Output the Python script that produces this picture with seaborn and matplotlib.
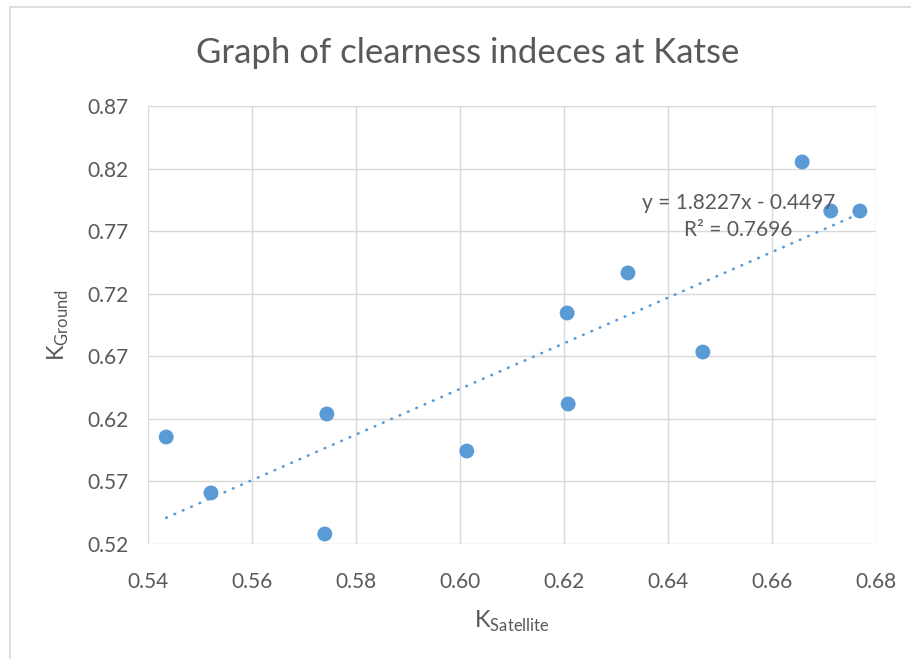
import matplotlib
matplotlib.use('Agg')
import matplotlib.pyplot as plt
import seaborn as sns
import numpy as np
import pandas as pd
from matplotlib.patches import Rectangle

# values
k_satellite = [0.5435, 0.5521, 0.5740, 0.5744, 0.6013, 0.6206,
               0.6208, 0.6323, 0.6467, 0.6658, 0.6713, 0.6769]
k_ground = [0.6055, 0.5608, 0.5280, 0.6239, 0.5943, 0.7046,
            0.6319, 0.7366, 0.6734, 0.8253, 0.7861, 0.7861]

# linear trendline as reported on the chart
slope = 1.8227
intercept = -0.4497
r_squared = 0.7696

x_ticks = [0.54, 0.56, 0.58, 0.60, 0.62, 0.64, 0.66, 0.68]
y_ticks = [0.52, 0.57, 0.62, 0.67, 0.72, 0.77, 0.82, 0.87]

df = pd.DataFrame({'k_sat': k_satellite, 'k_ground': k_ground})

blue = '#5B9BD5'
text_grey = '#595959'
grid_grey = '#D9D9D9'

sns.set_theme(style='white')
plt.rcParams['font.family'] = ['Lato', 'DejaVu Sans']
plt.rcParams['mathtext.fontset'] = 'custom'
plt.rcParams['mathtext.rm'] = 'Lato'

fig = plt.figure(figsize=(9.12, 6.59), dpi=100)
ax = fig.add_axes([148 / 912, 1 - 544 / 659, (876 - 148) / 912, (544 - 106) / 659])

# chart area border
fig.patches.append(Rectangle((10 / 912, -0.05), 1.1, 1 - 7 / 659 + 0.05,
                             transform=fig.transFigure, fill=False,
                             edgecolor=grid_grey, linewidth=1.2))

sns.scatterplot(data=df, x='k_sat', y='k_ground', ax=ax, color=blue,
                s=115, edgecolor='none', zorder=3)

xs = np.array([min(k_satellite), max(k_satellite)])
ax.plot(xs, slope * xs + intercept, color=blue, linewidth=1.9,
        linestyle=(0, (0.25, 3.2)), dash_capstyle='round', zorder=2)

ax.text(0.6535, 0.7925, f'y = {slope:.4f}x - {abs(intercept):.4f}',
        ha='center', va='center', fontsize=15, color=text_grey, zorder=4)
ax.text(0.6535, 0.7708, f'R² = {r_squared:.4f}',
        ha='center', va='center', fontsize=15, color=text_grey, zorder=4)

ax.set_xlim(0.54, 0.68)
ax.set_ylim(0.52, 0.87)
ax.set_xticks(x_ticks)
ax.set_yticks(y_ticks)
ax.set_xticklabels([f'{t:.2f}' for t in x_ticks])
ax.set_yticklabels([f'{t:.2f}' for t in y_ticks])
ax.tick_params(axis='both', length=0, labelsize=15, labelcolor=text_grey)
ax.tick_params(axis='y', pad=14)
ax.tick_params(axis='x', pad=20)
ax.grid(True, color=grid_grey, linewidth=1.0)
ax.set_axisbelow(True)
for sp in ax.spines.values():
    sp.set_visible(False)

ax.set_xlabel(r'K$_{\mathrm{Satellite}}$', fontsize=17, color=text_grey, labelpad=12)
ax.set_ylabel(r'K$_{\mathrm{Ground}}$', fontsize=17, color=text_grey, labelpad=12)

fig.text(468 / 912, 1 - 53 / 659, 'Graph of clearness indeces at Katse',
         ha='center', va='center', fontsize=25, color=text_grey)

fig.savefig('out.png', dpi=100)
